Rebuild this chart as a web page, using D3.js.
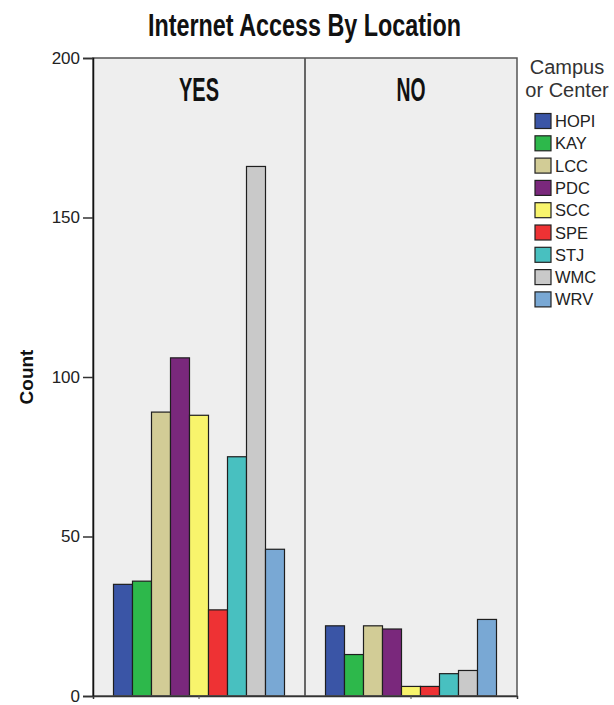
<!DOCTYPE html>
<html>
<head>
<meta charset="utf-8">
<script src="https://cdn.jsdelivr.net/npm/d3@7"></script>
<style>
  body { margin: 0; background: #fff; }
  text { font-family: "Liberation Sans", Arial, sans-serif; }
</style>
</head>
<body>
<div id="plot"></div>
<script>
// data
var campuses = ["HOPI", "KAY", "LCC", "PDC", "SCC", "SPE", "STJ", "WMC", "WRV"];
var accessGroups = ["YES", "NO"];
var yesCounts = [35, 36, 89, 106, 88, 27, 75, 166, 46];
var noCounts = [22, 13, 22, 21, 3, 3, 7, 8, 24];
var yTicks = [0, 50, 100, 150, 200];
var campusColors = ["#3a55a6", "#2db84b", "#d2cc96", "#7a287c", "#f8f46c", "#ee3234", "#48c0c0", "#c9c9c9", "#79a8d4"];

var svgWidth = 614;
var svgHeight = 705;

var margin = { top: 58, right: 97, bottom: 9, left: 93 };
var width = svgWidth - margin.left - margin.right;
var height = svgHeight - margin.top - margin.bottom;

var svg = d3.select("#plot")
  .append("svg")
  .attr("width", svgWidth)
  .attr("height", svgHeight);

var chartGroup = svg.append("g")
  .attr("transform", `translate(${margin.left}, ${margin.top})`);

var groupScale = d3.scaleBand()
  .domain(accessGroups)
  .range([0, width]);

var panelWidth = groupScale.bandwidth();

var barScale = d3.scaleBand()
  .domain(campuses)
  .range([20.5, panelWidth - 20.5]);

var yLinearScale = d3.scaleLinear()
  .domain([0, 200])
  .range([height, 0]);

var color = d3.scaleOrdinal()
  .domain(campuses)
  .range(campusColors);

// panel backgrounds
chartGroup.append("rect")
  .attr("width", width)
  .attr("height", height)
  .attr("fill", "#eeeeee");

var panels = chartGroup.selectAll(".panel")
  .data(accessGroups.map(function (g, i) {
    return { group: g, counts: i === 0 ? yesCounts : noCounts };
  }))
  .enter()
  .append("g")
  .attr("class", "panel")
  .attr("transform", d => `translate(${groupScale(d.group)}, 0)`);

panels.selectAll("rect")
  .data(d => d.counts.map((c, i) => ({ campus: campuses[i], count: c })))
  .enter()
  .append("rect")
  .attr("x", d => barScale(d.campus))
  .attr("y", d => yLinearScale(d.count))
  .attr("width", barScale.bandwidth())
  .attr("height", d => height - yLinearScale(d.count))
  .attr("fill", d => color(d.campus))
  .attr("stroke", "#1e1e1e")
  .attr("stroke-width", 1.2);

panels.append("text")
  .attr("x", panelWidth / 2)
  .attr("y", 42.5)
  .attr("text-anchor", "middle")
  .attr("font-family", "Liberation Sans Narrow")
  .attr("font-weight", "bold")
  .attr("font-size", 33)
  .attr("textLength", d => d.group === "YES" ? 40 : 29)
  .attr("lengthAdjust", "spacingAndGlyphs")
  .attr("fill", "#111")
  .text(d => d.group);

// panel divider and frame
chartGroup.append("line")
  .attr("x1", groupScale("NO")).attr("x2", groupScale("NO"))
  .attr("y1", 0).attr("y2", height)
  .attr("stroke", "#666").attr("stroke-width", 2);

chartGroup.append("rect")
  .attr("width", width)
  .attr("height", height)
  .attr("fill", "none")
  .attr("stroke", "#555")
  .attr("stroke-width", 1.5);

// axes
var leftAxis = d3.axisLeft(yLinearScale)
  .tickValues(yTicks)
  .tickSize(10)
  .tickPadding(3);

var axisG = chartGroup.append("g").call(leftAxis);
axisG.select(".domain").attr("stroke", "#111").attr("stroke-width", 1.5);
axisG.selectAll(".tick line").attr("stroke", "#333").attr("stroke-width", 1.5);
axisG.selectAll("text")
  .attr("font-size", 17)
  .attr("font-family", "Liberation Sans")
  .attr("fill", "#222");

var bottomAxis = d3.axisBottom(groupScale).tickSize(3).tickFormat("");
var bottomG = chartGroup.append("g")
  .attr("transform", `translate(0, ${height})`)
  .call(bottomAxis);
bottomG.select(".domain").attr("stroke", "#333").attr("stroke-width", 1.5);
bottomG.selectAll(".tick line").attr("stroke", "#555");

// titles
svg.append("text")
  .attr("x", 304.5)
  .attr("y", 36)
  .attr("text-anchor", "middle")
  .attr("font-family", "Liberation Sans Narrow")
  .attr("font-weight", "bold")
  .attr("font-size", 31.5)
  .attr("textLength", 313)
  .attr("lengthAdjust", "spacingAndGlyphs")
  .attr("fill", "#111")
  .text("Internet Access By Location");

svg.append("text")
  .attr("transform", "translate(33, 377) rotate(-90)")
  .attr("text-anchor", "middle")
  .attr("font-weight", "bold")
  .attr("font-size", 19)
  .attr("fill", "#111")
  .text("Count");

// legend
var legend = svg.append("g")
  .attr("transform", "translate(535, 0)");

legend.append("text")
  .attr("x", 32)
  .attr("y", 74)
  .attr("text-anchor", "middle")
  .attr("font-size", 20)
  .attr("fill", "#333")
  .text("Campus");

legend.append("text")
  .attr("x", 32)
  .attr("y", 97)
  .attr("text-anchor", "middle")
  .attr("font-size", 20)
  .attr("fill", "#333")
  .text("or Center");

var items = legend.selectAll(".item")
  .data(campuses)
  .enter()
  .append("g")
  .attr("class", "item")
  .attr("transform", (d, i) => `translate(0, ${113.5 + i * 22.3})`);

items.append("rect")
  .attr("width", 16)
  .attr("height", 15)
  .attr("fill", d => color(d))
  .attr("stroke", "#222")
  .attr("stroke-width", 1.2);

items.append("text")
  .attr("x", 20)
  .attr("y", 13.5)
  .attr("font-size", 16.5)
  .attr("fill", "#222")
  .text(d => d);
</script>
</body>
</html>
